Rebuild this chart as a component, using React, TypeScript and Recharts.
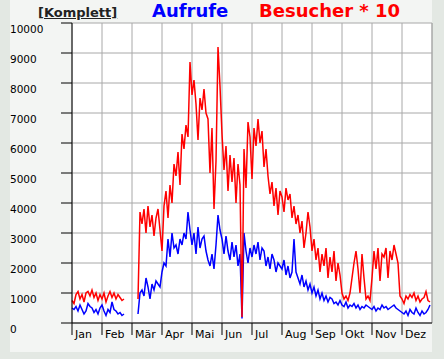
import { LineChart, Line, XAxis, YAxis, CartesianGrid, ReferenceLine } from 'recharts'

// one value every second day, 15 per month; null = no data
const besucher10: (number | null)[] = [
  // Jan
  750, 650, 950, 1050, 800, 950, 700, 1000, 1050, 900, 1100, 850, 1000, 750, 950,
  // Feb
  800, 1000, 700, 900, 1050, 850, 1000, 800, 950, 850, 750, 800, null, null, null,
  // Mär
  null, null, null, 800, 3700, 3300, 3800, 3000, 3900, 3200, 3600, 2900, 3500, 3800, 3100,
  // Apr
  2400, 3900, 4400, 3500, 4600, 4000, 5300, 4900, 5700, 4600, 6300, 5800, 6600, 6200, 8700,
  // Mai
  7600, 8100, 7300, 6100, 7500, 7100, 7800, 7000, 6800, 5000, 6500, 3800, 5400, 9200, 7900,
  // Jun
  6300, 5100, 5900, 4400, 5600, 4700, 5500, 4000, 5300, 4600, 200, 5800, 4500, 6700, 6200,
  // Jul
  4800, 6500, 5900, 6800, 6000, 6400, 5200, 5800, 4900, 4300, 4700, 3900, 4500, 3600, 4400,
  // Aug
  4200, 3700, 4500, 4100, 4300, 3500, 3900, 3300, 3600, 3000, 3400, 2500, 3000, 3700, 3200,
  // Sep
  2400, 2800, 2100, 2500, 1700, 2300, 1900, 2500, 1500, 2200, 1700, 2400, 1400, 2000, 1600,
  // Okt
  1000, 800, 900, 750, 1000, 1500, 2000, 2400, 1800, 1000, 2300, 1500, 800, 900, 750,
  // Nov
  1500, 2400, 1800, 2500, 1400, 2300, 2200, 2500, 1500, 2400, 2100, 2600, 2300, 2000, 900,
  // Dez
  800, 650, 900, 800, 950, 850, 1000, 750, 900, 700, 800, 850, 1050, 750, 700,
]

const aufrufe: (number | null)[] = [
  500, 450, 550, 400, 600, 450, 300, 400, 650, 550, 500, 350, 450, 300, 500,
  600, 400, 250, 450, 350, 700, 450, 400, 300, 350, 250, 300, null, null, null,
  null, null, null, 300, 1000, 1100, 900, 1500, 1200, 800, 1300, 1100, 1400, 1300, 1200,
  1700, 2000, 1900, 2800, 2200, 3000, 2500, 2600, 2300, 2800, 2600, 3000, 2800, 3700, 3100,
  2600, 3000, 2300, 3200, 2500, 2800, 2900, 2400, 2100, 1900, 2300, 1800, 2600, 3600, 3100,
  2800, 2300, 2900, 2400, 2100, 2700, 2200, 2600, 1900, 2300, 150, 3000, 2400, 2000, 2500,
  2200, 2600, 2300, 2700, 2100, 2500, 2400, 1900, 2200, 1800, 2300, 2100, 1700, 2000, 1900,
  1800, 2100, 1600, 1900, 1500, 1700, 2800, 1700, 1500, 1300, 1600, 1200, 1400, 1100, 1300,
  1000, 1200, 900, 1100, 800, 1000, 750, 900, 700, 850, 800, 650, 700, 600, 750,
  600, 550, 700, 500, 600, 550, 650, 500, 600, 450, 550, 500, 600, 550, 500,
  450, 550, 400, 500, 450, 600, 500, 550, 450, 500, 550, 600, 500, 450, 400,
  350, 300, 400, 250, 450, 350, 300, 500, 350, 250, 400, 300, 350, 450, 600,
]

const months = ['Jan', 'Feb', 'Mär', 'Apr', 'Mai', 'Jun', 'Jul', 'Aug', 'Sep', 'Okt', 'Nov', 'Dez']
const yTicks = [0, 1000, 2000, 3000, 4000, 5000, 6000, 7000, 8000, 9000, 10000]

const data = besucher10.map((b, i) => ({ day: i * 2, besucher: b, aufrufe: aufrufe[i] }))
const monthTicks = months.map((_, i) => i * 30)

const font = '"DejaVu Sans", Verdana, sans-serif'

function MonthTick(props: any) {
  const { x, y, payload } = props
  return (
    <g>
      <line x1={x} y1={y} x2={x} y2={y + 12} stroke="#000" />
      <text x={x + 3} y={y + 15} fontSize={11} fontFamily={font} fill="#000">
        {months[payload.value / 30]}
      </text>
    </g>
  )
}

function ValueTick(props: any) {
  const { y, payload } = props
  return (
    <g>
      <line x1={61} y1={y} x2={72} y2={y} stroke="#000" />
      <text x={10} y={y + 10} fontSize={10.5} fontFamily={font} fill="#000">
        {payload.value}
      </text>
    </g>
  )
}

export default function App() {
  return (
    <div style={{ position: 'absolute', left: 0, top: 0, width: 444, height: 359, background: '#e3e8e3' }}>
      <div style={{ position: 'absolute', left: 10, top: 0, width: 422, height: 352, background: '#f3f5f3' }} />
      <div style={{ position: 'absolute', left: 0, top: 0 }}>
        <LineChart width={444} height={359} data={data} margin={{ top: 23, right: 12, bottom: 0, left: 0 }}>
          <CartesianGrid stroke="#a8a8a8" fill="#fff" />
          <XAxis
            dataKey="day"
            type="number"
            domain={[0, 360]}
            ticks={monthTicks}
            tick={<MonthTick />}
            tickSize={0}
            tickMargin={0}
            height={36}
            axisLine={{ stroke: '#000' }}
            tickLine={false}
            interval={0}
          />
          <YAxis
            type="number"
            domain={[0, 10000]}
            ticks={yTicks}
            width={72}
            tick={<ValueTick />}
            tickLine={false}
            axisLine={{ stroke: '#000' }}
            interval={0}
          />
          <ReferenceLine x={360} stroke="#a8a8a8" />
          <Line dataKey="aufrufe" stroke="#0000ff" strokeWidth={1.5} dot={false} isAnimationActive={false} connectNulls={false} type="linear" />
          <Line dataKey="besucher" stroke="#ff0000" strokeWidth={1.5} dot={false} isAnimationActive={false} connectNulls={false} type="linear" />
        </LineChart>
      </div>
      <div style={{ position: 'absolute', left: 38, top: 5, fontFamily: font, fontWeight: 'bold', fontSize: 13, color: '#222', textDecoration: 'underline', whiteSpace: 'nowrap' }}>
        [Komplett]
      </div>
      <div style={{ position: 'absolute', left: 152, top: 0, fontFamily: font, fontWeight: 'bold', fontSize: 18, color: '#0000ff', whiteSpace: 'nowrap' }}>
        Aufrufe
      </div>
      <div style={{ position: 'absolute', left: 259, top: 0, fontFamily: font, fontWeight: 'bold', fontSize: 18, color: '#ff0000', whiteSpace: 'nowrap' }}>
        Besucher * 10
      </div>
    </div>
  )
}
